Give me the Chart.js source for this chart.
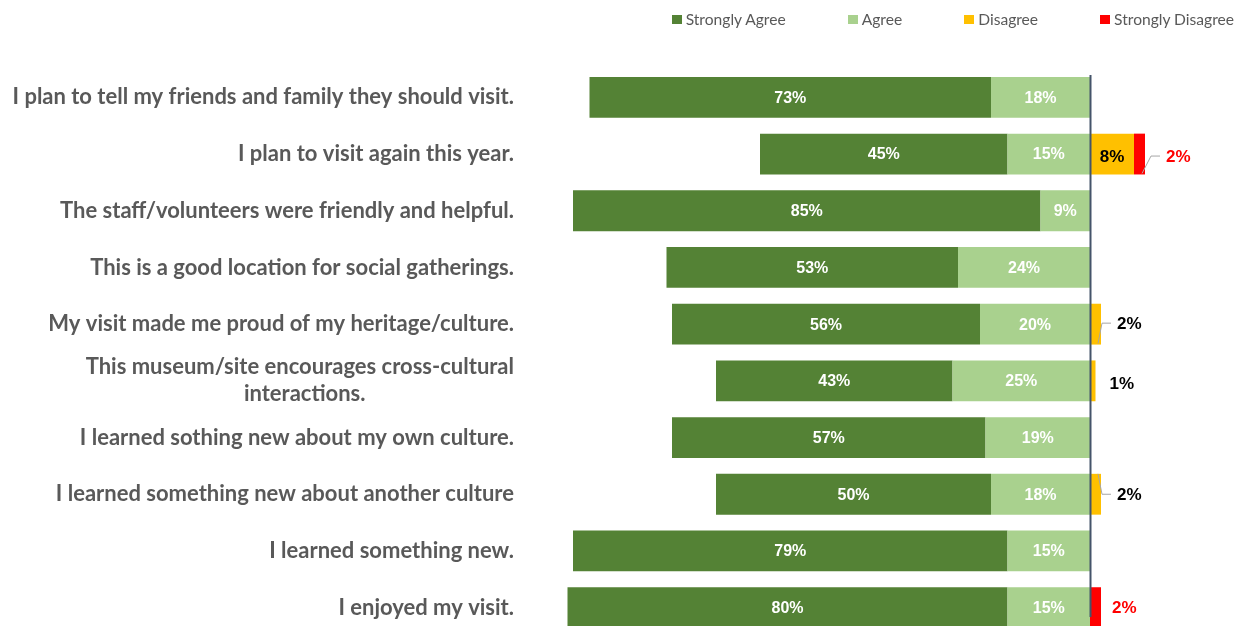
<!DOCTYPE html>
<html>
<head>
<meta charset="utf-8">
<title>Visitor survey</title>
<script src="https://cdn.jsdelivr.net/npm/chart.js@4.4.1/dist/chart.umd.min.js"></script>
<style>
  html, body { margin: 0; padding: 0; background: #fff; overflow: hidden; }
  .wrap { position: relative; width: 1247px; height: 640px; }
  .legend {
    position: absolute; top: 10px; right: 13px; z-index: 2;
    display: flex; gap: 62px;
    font: 15.6px/18px Lato, sans-serif; color: #595959;
  }
  .legend .item { display: flex; align-items: center; }
  .legend .swatch { display: inline-block; width: 10px; height: 9px; margin-right: 4px; }
  canvas { display: block; }
</style>
</head>
<body>
<div class="wrap">
  <div class="legend" id="legend"></div>
  <canvas id="surveyChart" width="1247" height="640"></canvas>
</div>
<script>
const statements = [
    'I plan to tell my friends and family they should visit.',
    'I plan to visit again this year.',
    'The staff/volunteers were friendly and helpful.',
    'This is a good location for social gatherings.',
    'My visit made me proud of my heritage/culture.',
    ['This museum/site encourages cross-cultural', 'interactions.' + '\u2003'.repeat(9)],
    'I learned sothing new about my own culture.',
    'I learned something new about another culture',
    'I learned something new.',
    'I enjoyed my visit.'
];

// percentages per statement, same order as above
const stronglyAgree = [73, 45, 85, 53, 56, 43, 57, 50, 79, 80];
const agree = [18, 15, 9, 24, 20, 25, 19, 18, 15, 15];
const disagree = [0, 8, 0, 0, 2, 1, 0, 2, 0, 0];
const stronglyDisagree = [0, 2, 0, 0, 0, 0, 0, 0, 0, 2];

const colors = {
    stronglyAgree: '#548235',
    agree: '#A9D18E',
    disagree: '#FFC000',
    stronglyDisagree: '#FF0000'
};

// small segments on the right get their label outside the bar
// key = "datasetIndex:row"
const sideLabels = {
    '2:1': { inside: true },
    '3:1': { dx: 21, dy: 3, leader: 'bottom' },
    '2:4': { dx: 16, dy: 0, leader: 'bottom' },
    '2:5': { dx: 14, dy: 3 },
    '2:7': { dx: 16, dy: 1, leader: 'top' },
    '3:9': { dx: 11, dy: 1 }
};

// vertical axis line at 0%
const zeroLine = {
    id: 'zeroLine',
    afterDatasetsDraw(chart) {
        const { ctx, chartArea, scales } = chart;
        const x = Math.round(scales.x.getPixelForValue(0)) + 0.5;
        ctx.save();
        ctx.strokeStyle = '#44546A';
        ctx.lineWidth = 2;
        ctx.beginPath();
        ctx.moveTo(x, chartArea.top + 6);
        ctx.lineTo(x, chartArea.bottom - 19);
        ctx.stroke();
        ctx.restore();
    }
};

// percentage labels on each segment
const valueLabels = {
    id: 'valueLabels',
    afterDatasetsDraw(chart) {
        const { ctx } = chart;
        ctx.save();
        ctx.textBaseline = 'middle';
        chart.data.datasets.forEach((dataset, di) => {
            const meta = chart.getDatasetMeta(di);
            meta.data.forEach((bar, i) => {
                const value = Math.abs(dataset.data[i]);
                if (!value) return;
                const text = value + '%';
                const side = sideLabels[di + ':' + i];
                if (di < 2) {
                    ctx.font = 'bold 16px "Liberation Sans", Arial, sans-serif';
                    ctx.fillStyle = '#FFFFFF';
                    ctx.textAlign = 'center';
                    ctx.fillText(text, (bar.x + bar.base) / 2, bar.y + 1);
                    return;
                }
                ctx.font = 'bold 17px "Liberation Sans", Arial, sans-serif';
                ctx.fillStyle = di === 3 ? '#FF0000' : '#000000';
                if (side && side.inside) {
                    ctx.textAlign = 'center';
                    ctx.fillText(text, (bar.x + bar.base) / 2, bar.y + 3);
                    return;
                }
                const lx = bar.x + side.dx;
                const ly = bar.y + side.dy;
                ctx.textAlign = 'left';
                ctx.fillText(text, lx, ly);
                if (side.leader) {
                    const half = bar.height / 2;
                    const sy = side.leader === 'top' ? bar.y - half : bar.y + half - 1;
                    ctx.strokeStyle = '#A6A6A6';
                    ctx.lineWidth = 1;
                    ctx.beginPath();
                    ctx.moveTo(bar.x - 3, sy);
                    ctx.lineTo(lx - 15, ly - 1);
                    ctx.lineTo(lx - 6, ly - 1);
                    ctx.stroke();
                }
            });
        });
        ctx.restore();
    }
};

const ctx = document.getElementById('surveyChart').getContext('2d');

const surveyChart = new Chart(ctx, {
    type: 'bar',
    data: {
        labels: statements,
        datasets: [
            // agree sits next to the axis, strongly agree further left
            { label: 'Agree', data: agree.map(v => -v), backgroundColor: colors.agree },
            { label: 'Strongly Agree', data: stronglyAgree.map(v => -v), backgroundColor: colors.stronglyAgree },
            { label: 'Disagree', data: disagree, backgroundColor: colors.disagree },
            { label: 'Strongly Disagree', data: stronglyDisagree, backgroundColor: colors.stronglyDisagree }
        ]
    },
    options: {
        indexAxis: 'y',
        responsive: false,
        animation: false,
        datasets: {
            bar: { barPercentage: 0.72, categoryPercentage: 1 }
        },
        layout: {
            padding: { top: 69, right: 3, bottom: 4, left: 0 }
        },
        plugins: {
            legend: { display: false },
            tooltip: { enabled: false }
        },
        scales: {
            x: {
                stacked: true,
                display: false,
                min: -100,
                max: 28
            },
            y: {
                stacked: true,
                grid: { display: false, drawTicks: false },
                border: { display: false },
                ticks: {
                    color: '#595959',
                    padding: 26,
                    autoSkip: false,
                    font: { family: 'Lato', weight: 'bold', size: 22, lineHeight: 1.23 }
                },
                afterFit: (scale) => {
                    // fixed label column; the bands themselves need no extra room
                    scale.width = 540;
                    scale.paddingTop = 0;
                    scale.paddingBottom = 0;
                }
            }
        }
    },
    plugins: [zeroLine, valueLabels]
});

// html legend, listed strongly agree -> strongly disagree
const legendOrder = [1, 0, 2, 3];
const legendEl = document.getElementById('legend');
legendOrder.forEach(i => {
    const ds = surveyChart.data.datasets[i];
    const item = document.createElement('span');
    item.className = 'item';
    const swatch = document.createElement('span');
    swatch.className = 'swatch';
    swatch.style.background = ds.backgroundColor;
    item.appendChild(swatch);
    item.appendChild(document.createTextNode(ds.label));
    legendEl.appendChild(item);
});
</script>
</body>
</html>
